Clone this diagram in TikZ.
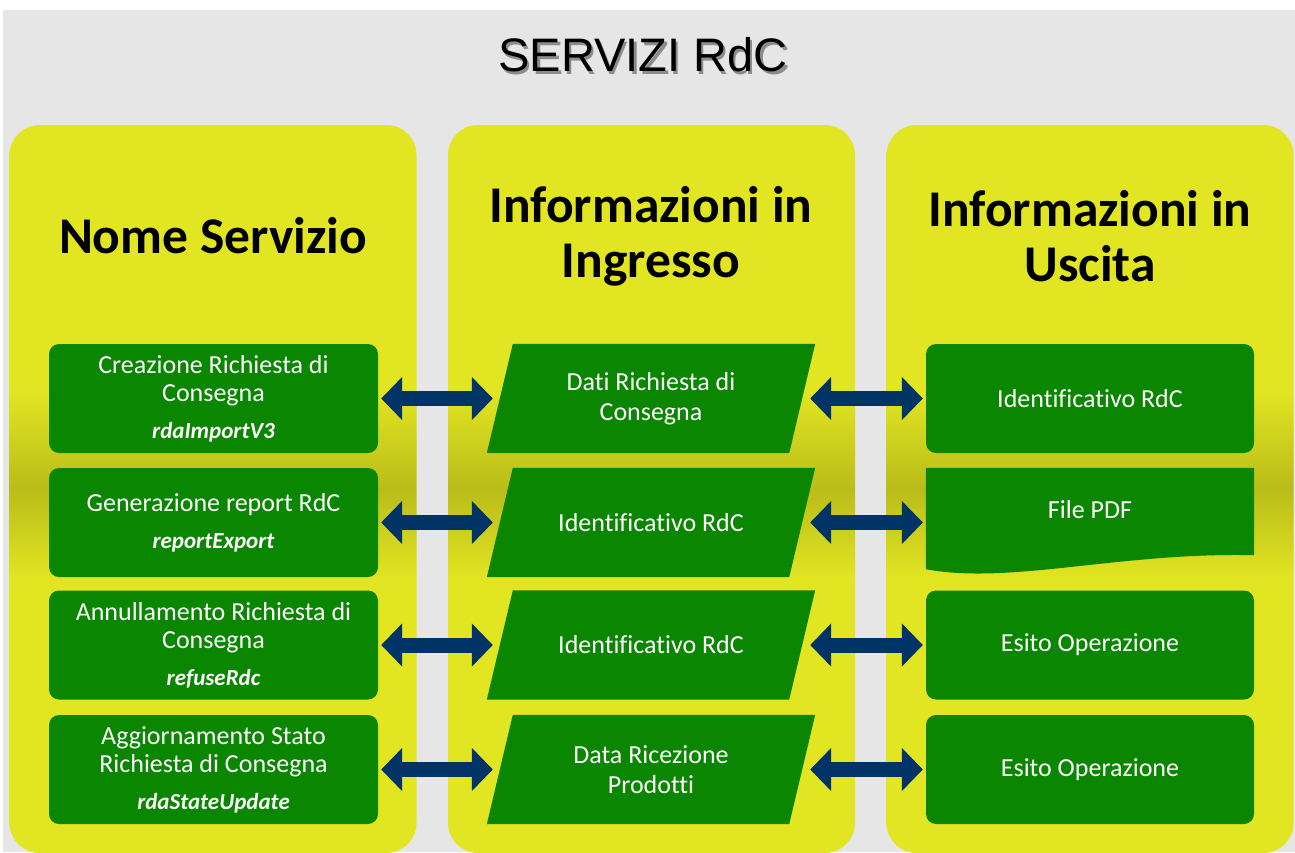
\documentclass[tikz,border=0pt]{standalone}
\usepackage{fontspec}
\setmainfont{Carlito}[Ligatures=NoCommon]
\newfontfamily\titlefont{Liberation Sans}
\usetikzlibrary{arrows.meta}

\definecolor{bggray}{RGB}{230,230,230}
\definecolor{colyellow}{RGB}{226,230,34}
\definecolor{cololive}{RGB}{186,188,26}
\definecolor{boxgreen}{RGB}{10,134,0}
\definecolor{arrowblue}{RGB}{0,51,102}

\pgfdeclareverticalshading{colshade}{100bp}{color(0bp)=(colyellow); color(43.7bp)=(colyellow); color(50bp)=(cololive); color(56.8bp)=(colyellow); color(100bp)=(colyellow)}

\pgfdeclarelayer{back}
\pgfdeclarelayer{shapes}
\pgfsetlayers{back,shapes,main}

\tikzset{
  titletext/.style={font=\titlefont\fontsize{47}{50}\selectfont},
  colbox/.style={shading=colshade, rounded corners=30pt, minimum width=407pt, minimum height=728pt, inner sep=0pt},
  header/.style={font=\bfseries\fontsize{51.5}{55}\selectfont, align=center},
  svcbox/.style={fill=boxgreen, rounded corners=10pt, minimum width=329pt, minimum height=109pt, inner sep=0pt,
    text=white, align=center, font=\fontsize{26}{28}\selectfont},
  inbox/.style={minimum width=302pt, minimum height=109pt, inner sep=0pt,
    text=white, align=center, font=\fontsize{26}{30}\selectfont},
  outbox/.style={svcbox, minimum width=328pt},
  dblarrow/.style={draw=arrowblue, line width=15pt, {Triangle[length=21pt,width=42pt]}-{Triangle[length=21pt,width=42pt]}}
}
\newcommand{\fname}[1]{{\fontsize{23}{24}\selectfont\bfseries\itshape #1}}

\begin{document}
\begin{tikzpicture}[x=1pt,y=-1pt]
  \useasboundingbox (0,0) rectangle (1295,852);
  \begin{pgfonlayer}{back}
    \fill[white] (0,0) rectangle (1295,852);
    \fill[bggray] (3,10) rectangle (1295,852);
    % columns
    \node[colbox] (colsvc) at (213,489) {};
    \node[colbox] (colin) at (651.5,489) {};
    \node[colbox] (colout) at (1090,489) {};
  \end{pgfonlayer}

  % title with shadow
  \node[titletext, text=black!45] (titleshadow) at (645.5,57.5) {SERVIZI RdC};
  \node[titletext] (title) at (643,55) {SERVIZI RdC};

  \node[header] (hdrsvc) at (213,236) {Nome Servizio};
  \node[header] (hdrin) at (651,236) {Informazioni in\\Ingresso};
  \node[header] (hdrout) at (1090,236) {Informazioni in\\Uscita};

  % services
  \node[svcbox] (svc1) at (213.5,398.5) {Creazione Richiesta di\\Consegna\\[9pt]\fname{rdaImportV3}};
  \node[svcbox] (svc2) at (213.5,522.5) {Generazione report RdC\\[9pt]\fname{reportExport}};
  \node[svcbox] (svc3) at (213.5,645) {Annullamento Richiesta di\\Consegna\\[9pt]\fname{refuseRdc}};
  \node[svcbox] (svc4) at (213.5,769.5) {Aggiornamento Stato\\Richiesta di Consegna\\[9pt]\fname{rdaStateUpdate}};

  % inputs (parallelograms)
  \node[inbox] (in1) at (651,398.5) {Dati Richiesta di\\Consegna};
  \node[inbox] (in2) at (651,522.5) {Identificativo RdC};
  \node[inbox] (in3) at (651,645) {Identificativo RdC};
  \node[inbox] (in4) at (651,769.5) {Data Ricezione\\Prodotti};
  \begin{pgfonlayer}{shapes}
    \foreach \i in {1,2,3,4}
      \fill[boxgreen] ([xshift=13pt]in\i.north west) -- ([xshift=13pt]in\i.north east)
        -- ([xshift=-13pt]in\i.south east) -- ([xshift=-13pt]in\i.south west) -- cycle;
  \end{pgfonlayer}

  % outputs
  \node[outbox] (out1) at (1090,398.5) {Identificativo RdC};
  \node[outbox, fill=none] (out2) at (1090,522.5) {};
  \fill[boxgreen] (out2.north west) -- (out2.north east) -- ([yshift=22pt]out2.south east)
    .. controls (1120,552) and (1010,585) .. ([yshift=8pt]out2.south west) -- cycle;
  \node[text=white, font=\fontsize{26}{28}\selectfont] (pdflabel) at (1090,510) {File PDF};
  \node[outbox] (out3) at (1090,645) {Esito Operazione};
  \node[outbox] (out4) at (1090,769.5) {Esito Operazione};

  % arrows
  \foreach \i in {1,2,3,4} {
    \draw[dblarrow] ([xshift=3pt]svc\i.east) -- ([xshift=-7pt]in\i.west);
    \draw[dblarrow] ([xshift=8pt]in\i.east) -- ([xshift=-3pt]out\i.west);
  }
\end{tikzpicture}
\end{document}
